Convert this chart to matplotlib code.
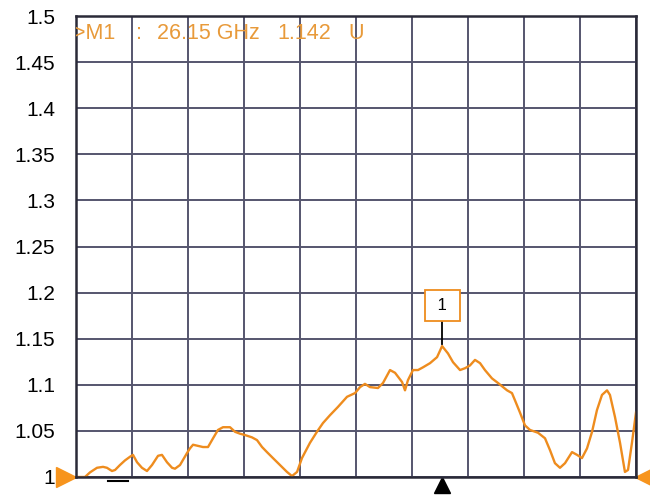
import matplotlib
matplotlib.use("Agg")
import matplotlib.pyplot as plt
import numpy as np

# trace (GHz, linear units)
freq = [0.0, 0.64, 1.0, 1.5, 1.93, 2.21, 2.57, 2.79, 3.14, 3.5, 3.86, 4.07, 4.36, 4.71,
        5.07, 5.43, 5.86, 6.14, 6.5, 6.86, 7.07, 7.43, 7.93, 8.14, 8.36, 9.07, 9.43, 9.79,
        10.14, 10.5, 11.0, 11.36, 11.71, 12.07, 12.57, 12.93, 13.29, 13.64, 14.07, 14.57,
        15.07, 15.43, 15.79, 16.14, 16.71, 17.21, 17.64, 18.14, 18.71, 19.36, 19.93, 20.29,
        20.64, 21.0, 21.57, 21.93, 22.43, 22.79, 23.29, 23.5, 23.71, 24.07, 24.43, 24.79,
        25.29, 25.79, 26.15, 26.57, 26.93, 27.43, 27.79, 28.14, 28.5, 28.86, 29.21, 29.71,
        30.14, 30.79, 31.14, 31.36, 31.71, 32.07, 32.43, 33.0, 33.5, 33.86, 34.21, 34.57,
        34.93, 35.43, 35.79, 36.14, 36.5, 36.86, 37.21, 37.57, 37.93, 38.14, 38.5, 38.86,
        39.21, 39.43, 39.71, 39.93, 40.0]
vswr = [1.000, 1.000, 1.005, 1.010, 1.011, 1.010, 1.0065, 1.0076, 1.013, 1.018, 1.022, 1.024,
        1.016, 1.010, 1.0065, 1.013, 1.023, 1.024, 1.016, 1.010, 1.009, 1.013, 1.026, 1.031,
        1.035, 1.0325, 1.0325, 1.042, 1.051, 1.054, 1.054, 1.049, 1.047, 1.0455, 1.043, 1.040,
        1.0325, 1.027, 1.0205, 1.013, 1.0055, 1.001, 1.0055, 1.0205, 1.037, 1.049, 1.0585,
        1.067, 1.076, 1.087, 1.091, 1.0975, 1.101, 1.0975, 1.0965, 1.102, 1.116, 1.113, 1.103,
        1.094, 1.105, 1.116, 1.116, 1.119, 1.1235, 1.130, 1.142, 1.134, 1.1245, 1.116, 1.118,
        1.121, 1.127, 1.1235, 1.116, 1.107, 1.102, 1.094, 1.091, 1.083, 1.070, 1.056, 1.051,
        1.048, 1.042, 1.029, 1.015, 1.010, 1.015, 1.027, 1.024, 1.0205, 1.031, 1.049, 1.0725,
        1.089, 1.094, 1.089, 1.065, 1.037, 1.0055, 1.0076, 1.037, 1.062, 1.070]

yticks = [1, 1.05, 1.1, 1.15, 1.2, 1.25, 1.3, 1.35, 1.4, 1.45, 1.5]
ytick_labels = ["1", "1.05", "1.1", "1.15", "1.2", "1.25", "1.3", "1.35", "1.4", "1.45", "1.5"]
m1_freq = 26.15
m1_val = 1.142

orange = "#ee8c1e"
grid_c = "#55556e"

fig = plt.figure(figsize=(6.5, 4.97), dpi=100)
ax = fig.add_axes([76/650, 20/497, 560/650, 461/497])

ax.plot(freq, vswr, color=orange, linewidth=1.7)

ax.set_xlim(0, 40)
ax.set_ylim(1, 1.5)
ax.set_xticks(np.arange(0, 41, 4))
ax.set_xticklabels([])
ax.set_yticks(yticks)
ax.set_yticklabels(ytick_labels, fontsize=15, family="Liberation Sans")
ax.tick_params(length=0, pad=15)
ax.grid(True, color=grid_c, linewidth=1.4)
for s in ax.spines.values():
    s.set_color("#2a2a38")
    s.set_linewidth(1.8)

# marker readout
rd = dict(transform=ax.transAxes, color="#e89a3a", fontsize=15.5, family="Liberation Sans",
          va="center", clip_on=True)
ax.text(-0.006, 0.962, ">M1", **rd)
ax.text(0.108, 0.962, ":", **rd)
ax.text(0.145, 0.962, "26.15 GHz", **rd)
ax.text(0.359, 0.962, "1.142", **rd)
ax.text(0.486, 0.962, "U", **rd)

# marker 1 flag
ax.plot([m1_freq, m1_freq], [m1_val + 0.002, 1.170], color="black", linewidth=1.3)
ax.text(m1_freq, 1.186, " 1 ", ha="center", va="center", fontsize=12, family="Liberation Sans",
        bbox=dict(boxstyle="square,pad=0.5", fc="white", ec=orange, lw=1.3))

# edge indicators
ax.plot([m1_freq], [0.991], marker="^", color="black", markersize=11, clip_on=False)
ax.plot([-0.7], [1.0], marker=">", color="#f7941d", markersize=14, clip_on=False)
ax.plot([40.64], [1.0], marker="<", color="#f7941d", markersize=14, clip_on=False)
ax.plot([2.29, 3.71], [0.9957, 0.9957], color="black", linewidth=1.5, clip_on=False)

fig.savefig("out.png", dpi=100)
